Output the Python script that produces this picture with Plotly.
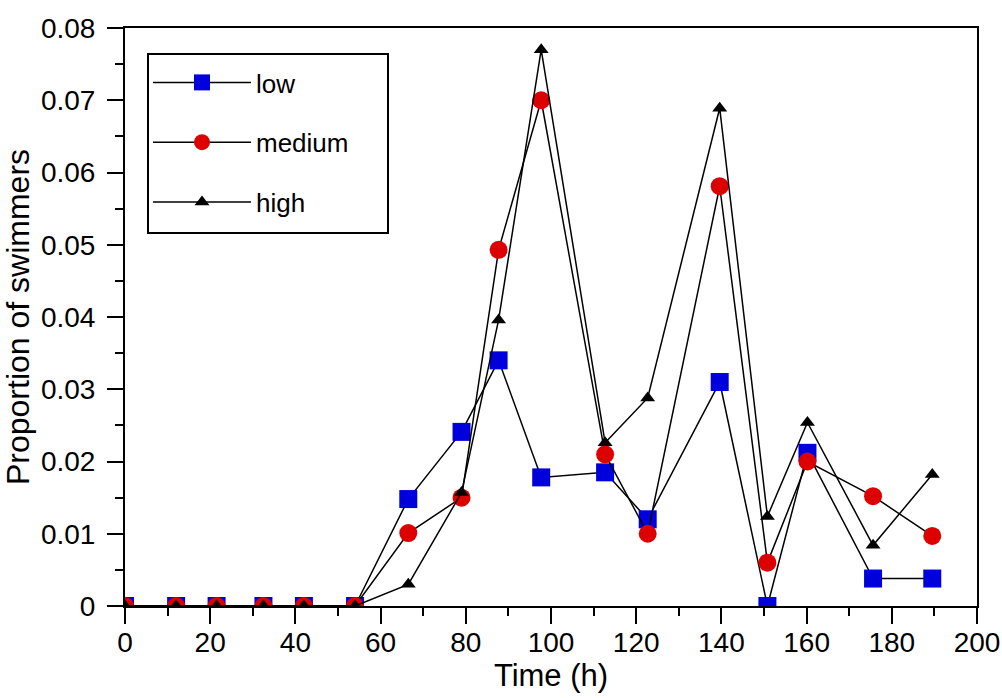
import plotly.graph_objects as go

time_h = [0, 12, 21.5, 32.5, 42, 54, 66.5, 79, 87.7, 97.7, 112.7, 122.7, 139.6, 150.8, 160.2, 175.6, 189.5]
low = [0, 0, 0, 0, 0, 0, 0.0148, 0.0241, 0.0340, 0.0178, 0.0185, 0.0120, 0.0310, 0.0, 0.0212, 0.0038, 0.0038]
medium = [0, 0, 0, 0, 0, 0, 0.0101, 0.0150, 0.0493, 0.0700, 0.0210, 0.0100, 0.0581, 0.0060, 0.0200, 0.0152, 0.0097]
high = [0, 0, 0, 0, 0, 0, 0.0030, 0.0157, 0.0396, 0.0770, 0.0226, 0.0288, 0.0689, 0.0124, 0.0254, 0.0084, 0.0182]

series = [
    ("low", low, dict(symbol="square", size=18, color="#0000dd")),
    ("medium", medium, dict(symbol="circle", size=18, color="#dd0000")),
    ("high", high, dict(symbol="triangle-up", size=13, color="#000000")),
]

fig = go.Figure()
for i, (name, vals, mk) in enumerate(series):
    fig.add_trace(go.Scatter(
        x=time_h, y=vals, name=name, mode="lines+markers",
        line=dict(color="black", width=1.5),
        marker=dict(line=dict(width=0), **mk),
        legendgroup=name,
    ))

regular = "Liberation Sans, Arial, sans-serif"

W, H = 1002, 698
L, R, T, B = 125, 25, 28, 92
PW, PH = W - L - R, H - T - B

def px_x(x):
    return (x - L) / PW

def px_y(y):
    return 1 - (y - T) / PH

axis_common = dict(
    showline=True, linecolor="black", linewidth=2, mirror=True,
    ticks="outside", tickcolor="black", tickwidth=2, ticklen=16,
    showgrid=False, zeroline=False, automargin=False,
    ticklabeloverflow="allow",
    tickfont=dict(family=regular, size=28, color="black"),
)

fig.update_layout(
    width=W, height=H,
    margin=dict(l=L, r=R, t=T, b=B),
    paper_bgcolor="white", plot_bgcolor="white",
    font=dict(family=regular, color="black"),
    xaxis=dict(range=[0, 200], dtick=20, tick0=0,
               minor=dict(ticks="outside", ticklen=8, tickwidth=2, tickcolor="black", dtick=10),
               title=dict(text="Time (h)", font=dict(family=regular, size=31), standoff=2),
               ticklabelstandoff=-6,
               **axis_common),
    yaxis=dict(range=[0, 0.08], dtick=0.01, tick0=0,
               minor=dict(ticks="outside", ticklen=8, tickwidth=2, tickcolor="black", dtick=0.005),
               title=dict(text="Proportion of swimmers", font=dict(family=regular, size=32), standoff=6),
               ticklabelstandoff=6,
               **axis_common),
    legend=dict(
        x=px_x(148), y=px_y(59), xanchor="left", yanchor="top",
        bgcolor="rgba(0,0,0,0)", borderwidth=0,
        font=dict(family=regular, size=26, color="black"),
        tracegroupgap=23, traceorder="grouped", itemwidth=98,
    ),
    shapes=[dict(
        type="rect", xref="paper", yref="paper",
        x0=px_x(148), x1=px_x(388), y0=px_y(233), y1=px_y(54),
        line=dict(color="black", width=2), fillcolor="white", layer="below",
    )],
)

fig.write_html("out.html")
